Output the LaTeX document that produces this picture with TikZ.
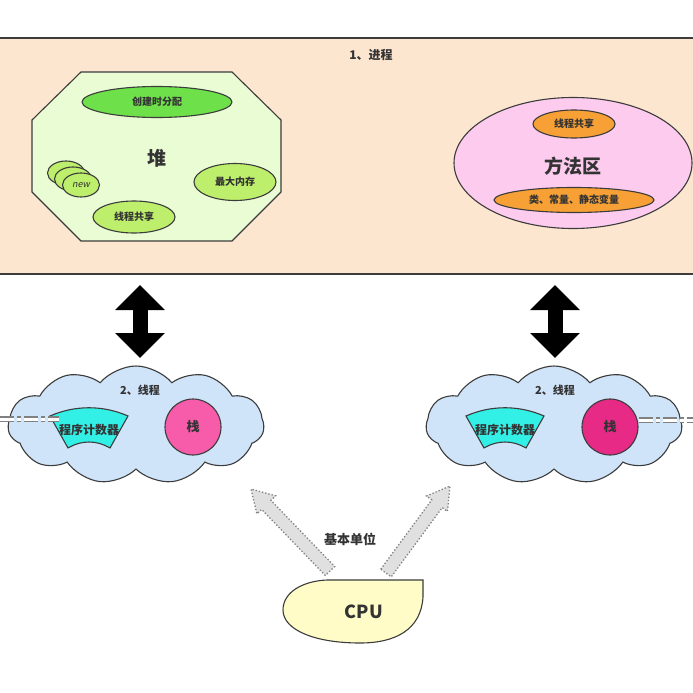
\documentclass[tikz,border=0pt]{standalone}
\usepackage{fontspec}
\newfontfamily\cjk{Noto Sans CJK SC}
\newfontfamily\cjkslant{Noto Sans CJK SC}[FakeSlant=0.2]
\usetikzlibrary{shapes.geometric,shapes.symbols,arrows.meta,calc}
\definecolor{peach}{HTML}{FDE6D0}
\definecolor{heapfill}{HTML}{E9FCD3}
\definecolor{brightgreen}{HTML}{6EE04A}
\definecolor{limegreen}{HTML}{BDEF6C}
\definecolor{pinkfill}{HTML}{FDCBEE}
\definecolor{orangefill}{HTML}{F7A035}
\definecolor{cloudfill}{HTML}{CFE3F9}
\definecolor{cyanfill}{HTML}{33F0E6}
\definecolor{stackA}{HTML}{F65CAA}
\definecolor{stackB}{HTML}{E82A87}
\definecolor{cpufill}{HTML}{FFFCC8}
\definecolor{txt}{HTML}{333333}
\definecolor{edge}{HTML}{3C3C3C}

\tikzset{
  outline/.style={draw=edge,line width=1.1pt},
  ell/.style={ellipse,outline,inner sep=0pt,text=txt,font=\cjk\bfseries\fontsize{10}{12}\selectfont},
  lbl/.style={text=txt,inner sep=0pt,font=\cjk\bfseries\fontsize{#1}{#1}\selectfont},
  bigarr/.style={line width=15pt,{Triangle[length=25pt,width=48pt]}-{Triangle[length=25pt,width=48pt]}},
  dotarr/.style={draw=gray,dotted,line width=1.3pt,fill=black!12},
  tieline/.style={draw=gray,line width=1.3pt,double=white,double distance=3pt,
    dash pattern=on 14pt off 3pt on 4pt off 3pt},
  threadcloud/.style={cloud,cloud puffs=11,cloud puff arc=100,aspect=2.2,outline,fill=cloudfill,
    minimum width=256pt,minimum height=118pt},
  pcshape/.pic={\filldraw[outline,fill=cyanfill] (-39,-14) .. controls (-14,-25) and (14,-25) .. (39,-14)
    -- (21,18) .. controls (8,10) and (-8,10) .. (-21,18) -- cycle;}
}

% block arrow drawn from #1 (tail) to #2 (tip)
\newcommand\dotarrow[2]{%
  \coordinate (arrneck) at ($(#2)!22pt!(#1)$);
  \filldraw[dotarr] ($(#1)!6.5pt!90:(#2)$) -- ($(arrneck)!6.5pt!90:(#2)$) -- ($(arrneck)!13pt!90:(#2)$)
    -- (#2) -- ($(arrneck)!13pt!-90:(#2)$) -- ($(arrneck)!6.5pt!-90:(#2)$) -- ($(#1)!6.5pt!-90:(#2)$) -- cycle;}

\begin{document}
\begin{tikzpicture}[x=1pt,y=-1pt]
    \useasboundingbox[fill=white] (0,0) rectangle (693,693);

    % process
    \node[outline,fill=peach,minimum width=699pt,minimum height=236pt] (proc) at (346.5,156) {};
    \node[lbl=12] (proctitle) at (371,55) {1、进程};

    % heap
    \filldraw[outline,fill=heapfill] (81,72) -- (232,72) -- (281,120) -- (281,192) -- (232,241)
        -- (81,241) -- (32,192) -- (32,120) -- cycle;
    \node[lbl=19] (heap) at (157,158) {堆};
    \node[ell,fill=brightgreen,minimum width=150pt,minimum height=31pt] (alloc) at (157,102) {创建时分配};
    \node[ell,fill=limegreen,minimum width=82pt,minimum height=37pt] (maxmem) at (235,182) {最大内存};
    \node[ell,fill=limegreen,minimum width=82pt,minimum height=32pt] (share1) at (134,217) {线程共享};
    \node[ell,fill=limegreen,minimum width=37pt,minimum height=24pt] (newa) at (66,173) {};
    \node[ell,fill=limegreen,minimum width=37pt,minimum height=24pt] (newb) at (73,179) {};
    \node[ell,fill=limegreen,minimum width=37pt,minimum height=24pt,font=\cjkslant\fontsize{9}{9}\selectfont] (newc) at (81,185) {new};

    % method area
    \node[ell,fill=pinkfill,minimum width=238pt,minimum height=131pt] (method) at (573,163) {};
    \node[lbl=19] (methodtxt) at (573,166) {方法区};
    \node[ell,fill=orangefill,minimum width=82pt,minimum height=28pt] (share2) at (574,124) {线程共享};
    \node[ell,fill=orangefill,minimum width=160pt,minimum height=25pt] (classes) at (574,200) {类、常量、静态变量};

    % threads
    \node[threadcloud] (thr1) at (136,425) {};
    \node[threadcloud] (thr2) at (554,425) {};
    \node[lbl=11] (thr1txt) at (140,390) {2、线程};
    \node[lbl=11] (thr2txt) at (555,390) {2、线程};
    \pic at (89,430) {pcshape};
    \pic at (505,430) {pcshape};
    \node[lbl=12] (pc1) at (89,430) {程序计数器};
    \node[lbl=12] (pc2) at (505,430) {程序计数器};
    \node[circle,outline,fill=stackA,minimum size=56pt,lbl=13] (stack1) at (193,427) {栈};
    \node[circle,outline,fill=stackB,minimum size=56pt,lbl=13] (stack2) at (610,427) {栈};

    \coordinate (tieL) at (0,419);
    \coordinate (tieR) at (693,420);
    \draw[tieline] (tieL) -- (tieL -| pc1.west);
    \draw[tieline] (stack2.east |- tieR) -- (tieR);

    % process <-> threads
    \coordinate (up1) at (140,285);
    \coordinate (dn1) at (140,358);
    \coordinate (up2) at (555,285);
    \coordinate (dn2) at (555,358);
    \draw[bigarr] (up1) -- (dn1);
    \draw[bigarr] (up2) -- (dn2);

    % cpu
    \filldraw[outline,fill=cpufill] (327,580) -- (423,580) -- (423,597) .. controls (421,630) and (395,643) .. (360,643)
        .. controls (315,643) and (283,630) .. (283,610) .. controls (283,592) and (303,581) .. (327,580) -- cycle;
    \node[lbl=18] (cpu) at (364,612) {CPU};
    \node[lbl=13] (unit) at (350,539) {基本单位};
    \coordinate (cpuL) at (330,571);
    \coordinate (cpuR) at (386,573);
    \coordinate (tip1) at (251,489);
    \coordinate (tip2) at (450,486);
    \dotarrow{cpuL}{tip1}
    \dotarrow{cpuR}{tip2}
\end{tikzpicture}
\end{document}
